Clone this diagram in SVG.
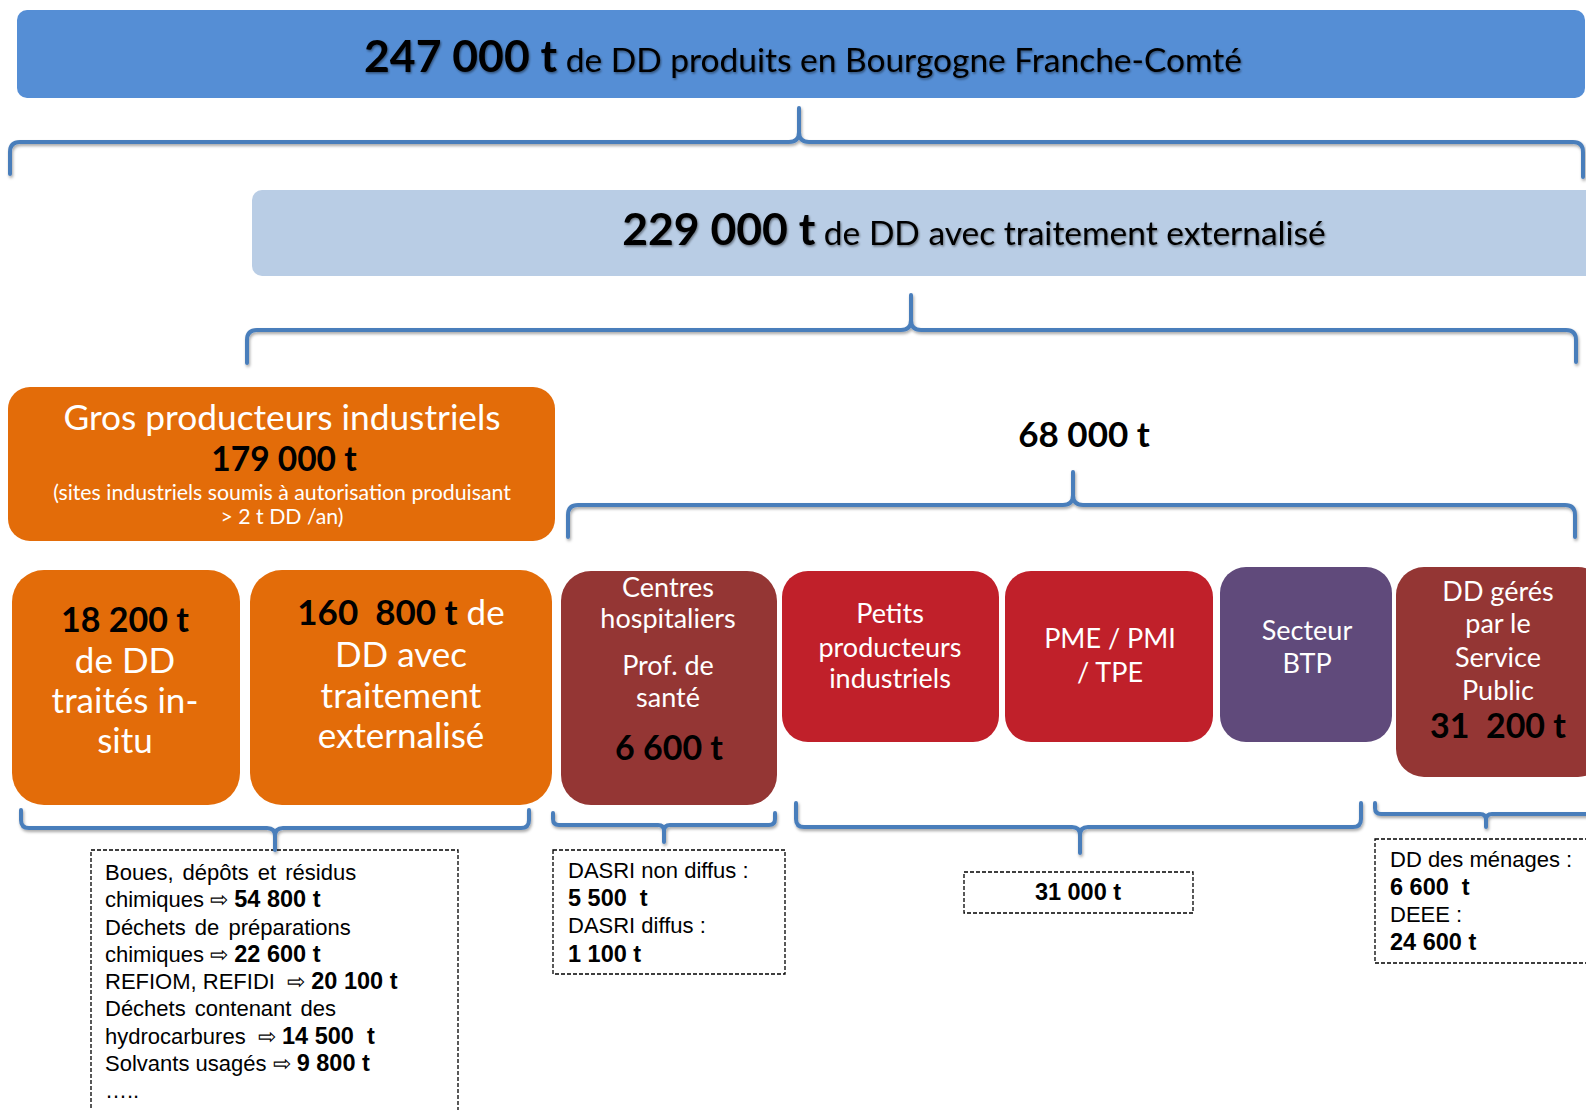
<svg xmlns="http://www.w3.org/2000/svg" width="1586" height="1110" viewBox="0 0 1586 1110">
<defs>
<filter id="sh" x="-5%" y="-20%" width="110%" height="160%"><feDropShadow dx="1" dy="2" stdDeviation="1.5" flood-color="#000" flood-opacity="0.35"/></filter>
<filter id="tsh" x="-5%" y="-30%" width="110%" height="160%"><feDropShadow dx="1" dy="1.5" stdDeviation="1.2" flood-color="#000" flood-opacity="0.45"/></filter>
<style>
.c{font-family:Lato,"Open Sans",sans-serif;text-anchor:middle}
.w{fill:#fff}
.k{fill:#000}
.b{font-weight:bold}
.t{font-family:"Liberation Sans",Arial,sans-serif;font-size:22px;fill:#000}
.tb{font-weight:bold;font-size:23.5px}
.br{fill:none;stroke:#4A7EBB;stroke-width:4;stroke-linecap:round;stroke-linejoin:round}
.dash{fill:#fff;stroke:#000;stroke-width:1.3;stroke-dasharray:4 2}
</style>
</defs>
<rect width="1586" height="1110" fill="#fff"/>

<g id="top-total">
<rect x="17" y="10" width="1568" height="88" rx="10" fill="#558ED5"/>
<text class="c" x="803" y="72" filter="url(#tsh)"><tspan class="b" font-size="44.5">247 000 t</tspan><tspan font-size="33.5"> de DD produits en Bourgogne Franche-Comté</tspan></text>
</g>

<g id="externalise-total">
<rect x="252" y="190" width="1345" height="86" rx="10" fill="#B9CDE5"/>
<text class="c" x="974" y="245" filter="url(#tsh)"><tspan class="b" font-size="44.5">229 000 t</tspan><tspan font-size="33.5"> de DD avec traitement externalisé</tspan></text>
</g>

<g id="gros-producteurs">
<rect x="8" y="387" width="547" height="154" rx="22" fill="#E36C09"/>
<text class="c w" x="282" y="430" font-size="35.3">Gros producteurs industriels</text>
<text class="c k b" x="284" y="471" font-size="33.5">179 000 t</text>
<text class="c w" x="282" y="500" font-size="21.3">(sites industriels soumis à autorisation produisant</text>
<text class="c w" x="282" y="524" font-size="21.3">&gt; 2 t DD /an)</text>
</g>

<g id="total-68000">
<text class="c k b" x="1084" y="447" font-size="35">68 000 t</text>
</g>

<g id="in-situ">
<rect x="12" y="570" width="228" height="235" rx="32" fill="#E36C09"/>
<text class="c k b" x="125" y="632" font-size="34">18 200 t</text>
<text class="c w" x="125" y="673" font-size="35">de DD</text>
<text class="c w" x="125" y="713" font-size="35">traités in-</text>
<text class="c w" x="125" y="753" font-size="35">situ</text>
</g>

<g id="gros-externalise">
<rect x="250" y="570" width="302" height="235" rx="32" fill="#E36C09"/>
<text class="c" x="401" y="625" font-size="35"><tspan class="k b">160&#160; 800 t</tspan><tspan class="w"> de</tspan></text>
<text class="c w" x="401" y="667" font-size="35">DD avec</text>
<text class="c w" x="401" y="708" font-size="35">traitement</text>
<text class="c w" x="401" y="748" font-size="35">externalisé</text>
</g>

<g id="centres-hospitaliers">
<rect x="561" y="571" width="216" height="234" rx="30" fill="#943634"/>
<text class="c w" x="668" y="597" font-size="27">Centres</text>
<text class="c w" x="668" y="628" font-size="27">hospitaliers</text>
<text class="c w" x="668" y="675" font-size="27">Prof. de</text>
<text class="c w" x="668" y="707" font-size="27">santé</text>
<text class="c k b" x="669" y="760" font-size="34">6 600 t</text>
</g>

<g id="petits-producteurs">
<rect x="782" y="571" width="217" height="171" rx="26" fill="#C0202A"/>
<text class="c w" x="890" y="623" font-size="27">Petits</text>
<text class="c w" x="890" y="657" font-size="27">producteurs</text>
<text class="c w" x="890" y="688" font-size="27">industriels</text>
</g>

<g id="pme-pmi-tpe">
<rect x="1005" y="571" width="208" height="171" rx="26" fill="#C0202A"/>
<text class="c w" x="1110" y="648" font-size="27">PME / PMI</text>
<text class="c w" x="1110" y="682" font-size="27">/ TPE</text>
</g>

<g id="secteur-btp">
<rect x="1220" y="567" width="172" height="175" rx="26" fill="#604A7B"/>
<text class="c w" x="1307" y="640" font-size="27">Secteur</text>
<text class="c w" x="1307" y="673" font-size="27">BTP</text>
</g>

<g id="service-public">
<rect x="1396" y="567" width="210" height="210" rx="28" fill="#943634"/>
<text class="c w" x="1498" y="601" font-size="27">DD gérés</text>
<text class="c w" x="1498" y="633" font-size="27">par le</text>
<text class="c w" x="1498" y="667" font-size="27">Service</text>
<text class="c w" x="1498" y="700" font-size="27">Public</text>
<text class="c k b" x="1498" y="738" font-size="34">31&#160; 200 t</text>
</g>

<g id="detail-gros">
<rect class="dash" x="91" y="850" width="367" height="290"/>
<text class="t" x="105" y="880" word-spacing="3">Boues, dépôts et résidus</text>
<text class="t" x="105" y="907">chimiques ⇨ <tspan class="tb">54 800 t</tspan></text>
<text class="t" x="105" y="935" word-spacing="3">Déchets de préparations</text>
<text class="t" x="105" y="962">chimiques ⇨ <tspan class="tb">22 600 t</tspan></text>
<text class="t" x="105" y="989">REFIOM, REFIDI &#160;⇨ <tspan class="tb">20 100 t</tspan></text>
<text class="t" x="105" y="1016" word-spacing="3">Déchets contenant des</text>
<text class="t" x="105" y="1044">hydrocarbures &#160;⇨ <tspan class="tb">14 500 &#160;t</tspan></text>
<text class="t" x="105" y="1071">Solvants usagés ⇨ <tspan class="tb">9 800 t</tspan></text>
<text class="t" x="105" y="1098" font-size="14">…..</text>
</g>

<g id="detail-dasri">
<rect class="dash" x="553" y="850" width="232" height="124"/>
<text class="t" x="568" y="878">DASRI non diffus :</text>
<text class="t tb" x="568" y="906">5 500 &#160;t</text>
<text class="t" x="568" y="933">DASRI diffus :</text>
<text class="t tb" x="568" y="962">1 100 t</text>
</g>

<g id="detail-31000">
<rect class="dash" x="964" y="872" width="229" height="41"/>
<text class="t tb" x="1078" y="900" text-anchor="middle">31 000 t</text>
</g>

<g id="detail-menages">
<rect class="dash" x="1375" y="839" width="240" height="124"/>
<text class="t" x="1390" y="867">DD des ménages :</text>
<text class="t tb" x="1390" y="895">6 600 &#160;t</text>
<text class="t" x="1390" y="922">DEEE :</text>
<text class="t tb" x="1390" y="950">24 600 t</text>
</g>

<g id="connectors" filter="url(#sh)">
<path class="br" d="M10,174 V152 Q10,142 20,142 H789 Q799,142 799,132 V108 M799,132 Q799,142 809,142 H1573 Q1583,142 1583,152 V177"/>
<path class="br" d="M247,363 V340 Q247,330 257,330 H901 Q911,330 911,320 V295 M911,320 Q911,330 921,330 H1566 Q1576,330 1576,340 V362"/>
<path class="br" d="M568,537 V515 Q568,505 578,505 H1063 Q1073,505 1073,495 V472 M1073,495 Q1073,505 1083,505 H1565 Q1575,505 1575,515 V537"/>
<path class="br" d="M21,810 V820 Q21,828 29,828 H267 Q275,828 275,836 V850 M275,836 Q275,828 283,828 H521 Q529,828 529,820 V810"/>
<path class="br" d="M553,813 V819 Q553,825 559,825 H658 Q664,825 664,831 V842 M664,831 Q664,825 670,825 H769 Q775,825 775,819 V813"/>
<path class="br" d="M796,803 V819 Q796,827 804,827 H1072 Q1080,827 1080,835 V853 M1080,835 Q1080,827 1088,827 H1353 Q1361,827 1361,819 V803"/>
<path class="br" d="M1375,803 V808 Q1375,814 1381,814 H1480 Q1486,814 1486,820 V827 M1486,820 Q1486,814 1492,814 H1600"/>
</g>
</svg>
